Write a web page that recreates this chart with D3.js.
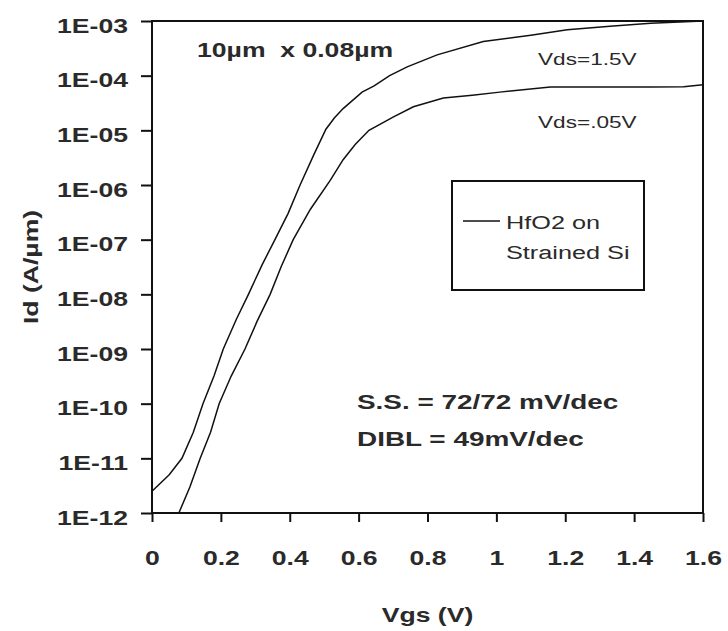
<!DOCTYPE html>
<html lang="en">
<head>
  <meta charset="UTF-8">
  <script src="https://cdn.jsdelivr.net/npm/d3@7"></script>
  <title>Id-Vgs</title>
  <style>
    body { margin: 0; background: #fff; }
    svg { display: block; background: #fff; }
    text { font-family: "Liberation Sans", Arial, sans-serif; fill: #2a2a2a; }
  </style>
</head>
<body>
<div id="chart"></div>
<script>

// Data
var vgsHigh = [0, 0.05, 0.087, 0.12, 0.148, 0.18, 0.207, 0.245, 0.28, 0.32, 0.357, 0.395, 0.43, 0.47, 0.505, 0.53, 0.555, 0.61, 0.645, 0.69, 0.741, 0.828, 0.962, 1.1, 1.206, 1.33, 1.448, 1.6];
var idHigh  = [2.5e-12, 5e-12, 1e-11, 3e-11, 1e-10, 3.2e-10, 1e-9, 3.5e-9, 1e-8, 3.5e-8, 1e-7, 3e-7, 1e-6, 3.6e-6, 1.05e-5, 1.7e-5, 2.5e-5, 5e-5, 6.5e-5, 1e-4, 1.45e-4, 2.4e-4, 4.2e-4, 5.5e-4, 6.9e-4, 8e-4, 9.1e-4, 1e-3];

var vgsLow = [0.078, 0.11, 0.14, 0.17, 0.195, 0.23, 0.27, 0.305, 0.343, 0.375, 0.41, 0.46, 0.517, 0.555, 0.59, 0.63, 0.70, 0.759, 0.846, 0.93, 1.01, 1.157, 1.3, 1.45, 1.544, 1.6];
var idLow  = [1e-12, 3e-12, 1e-11, 3e-11, 1e-10, 3.2e-10, 1e-9, 3.2e-9, 1e-8, 3.2e-8, 1e-7, 3.6e-7, 1.2e-6, 2.9e-6, 5.5e-6, 1e-5, 1.75e-5, 2.7e-5, 3.9e-5, 4.4e-5, 5e-5, 6.2e-5, 6.2e-5, 6.2e-5, 6.3e-5, 6.8e-5];

var xTicks = [0, 0.2, 0.4, 0.6, 0.8, 1, 1.2, 1.4, 1.6];
var yTicks = [1e-12, 1e-11, 1e-10, 1e-9, 1e-8, 1e-7, 1e-6, 1e-5, 1e-4, 1e-3];

// Spacing
var margin = {top: 21, right: 25, bottom: 118, left: 152};
var width = 728 - margin.left - margin.right;
var height = 631 - margin.top - margin.bottom;
var sx = 1.33; // text in the picture is drawn wide

var svg = d3.select("#chart").append("svg")
    .attr("width", 728)
    .attr("height", 631);

var g = svg.append("g")
    .attr("transform", "translate(" + margin.left + "," + margin.top + ")");

var x = d3.scaleLinear().domain([0, 1.6]).range([0, width]);
var y = d3.scaleLog().domain([1e-12, 1e-3]).range([height, 0]);

function fmtE(v) {
  var e = Math.round(Math.log10(v));
  var s = Math.abs(e) < 10 ? "0" + Math.abs(e) : "" + Math.abs(e);
  return "1E-" + s;
}

// Axes
var yAxis = g.append("g")
    .call(d3.axisLeft(y).tickValues(yTicks).tickSize(11).tickPadding(13).tickFormat(fmtE));

var xAxis = g.append("g")
    .attr("transform", "translate(0," + height + ")")
    .call(d3.axisBottom(x).tickValues(xTicks).tickSize(9).tickPadding(29).tickFormat(d3.format("")));

[yAxis, xAxis].forEach(function(a) {
  a.select(".domain").remove();
  a.selectAll(".tick line").attr("stroke", "#111").attr("stroke-width", 2);
  a.selectAll("text")
    .attr("font-family", "Liberation Sans, Arial, sans-serif")
    .attr("font-size", 20)
    .attr("font-weight", "bold")
    .attr("fill", "#2a2a2a");
});

yAxis.selectAll("text")
    .attr("transform", function() { return "translate(" + this.getAttribute("x") + ",0) scale(" + sx + ",1)"; })
    .attr("x", 0)
    .attr("dy", "0.56em");

xAxis.selectAll("text")
    .attr("transform", function() { return "translate(0," + this.getAttribute("y") + ") scale(" + sx + ",1)"; })
    .attr("y", 0);

// Frame
g.append("rect")
    .attr("width", width)
    .attr("height", height)
    .attr("fill", "none")
    .attr("stroke", "#111")
    .attr("stroke-width", 2);

// Curves
g.append("clipPath").attr("id", "clip")
  .append("rect").attr("width", width).attr("height", height);

var line = d3.line()
    .x(function(d) { return x(d[0]); })
    .y(function(d) { return y(d[1]); });

[[vgsHigh, idHigh], [vgsLow, idLow]].forEach(function(s) {
  g.append("path")
    .datum(d3.zip(s[0], s[1]))
    .attr("clip-path", "url(#clip)")
    .attr("fill", "none")
    .attr("stroke", "#111")
    .attr("stroke-width", 1.5)
    .attr("d", line);
});

// Stretched text helper
function label(px, py, txt, size, bold, anchor, rot) {
  return svg.append("text")
    .attr("transform", "translate(" + px + "," + py + ")" + (rot ? " rotate(" + rot + ")" : "") + " scale(" + sx + ",1)")
    .attr("font-size", size)
    .attr("font-weight", bold ? "bold" : "normal")
    .attr("text-anchor", anchor || "start")
    .style("white-space", "pre")
    .text(txt);
}

// Axis titles
label(margin.left + width / 2, 622, "Vgs (V)", 20, true, "middle");
label(38, margin.top + height / 2, "Id (A/\u00b5m)", 20, true, "middle", -90);

// Annotations
label(197, 57, "10\u00b5m  x 0.08\u00b5m", 20, true);
label(538, 65, "Vds=1.5V", 17, false);
label(538, 128, "Vds=.05V", 17, false);
label(357, 409, "S.S. = 72/72 mV/dec", 21, true);
label(357, 446, "DIBL = 49mV/dec", 21, true);

// Legend
var lg = svg.append("g");
lg.append("rect")
    .attr("x", 452).attr("y", 181)
    .attr("width", 192).attr("height", 109)
    .attr("fill", "none").attr("stroke", "#111").attr("stroke-width", 2);
lg.append("line")
    .attr("x1", 463).attr("x2", 500)
    .attr("y1", 221).attr("y2", 221)
    .attr("stroke", "#111").attr("stroke-width", 1.5);
label(506, 229, "HfO2 on", 19, false);
label(506, 259, "Strained Si", 19, false);

</script>
</body>
</html>
